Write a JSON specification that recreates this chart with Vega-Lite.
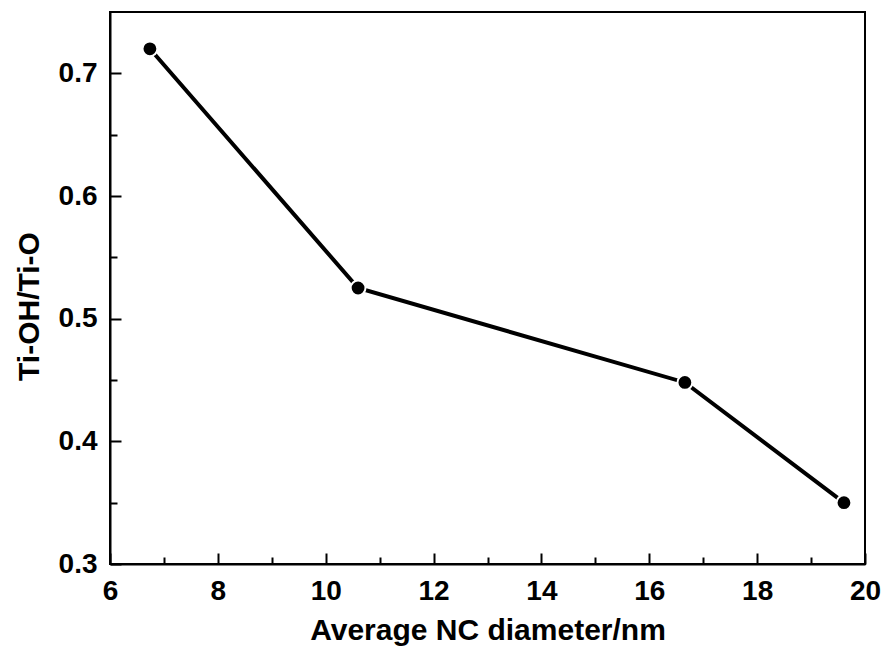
{
  "$schema": "https://vega.github.io/schema/vega-lite/v6.json",
  "width": 755,
  "height": 552,
  "autosize": {"type": "none"},
  "padding": {"left": 110, "top": 12, "right": 20, "bottom": 91},
  "background": "white",
  "config": {
    "view": {"stroke": "black", "strokeWidth": 2},
    "font": "Liberation Sans",
    "axis": {
      "grid": false,
      "domainColor": "black",
      "domainWidth": 2,
      "tickColor": "black",
      "tickWidth": 2,
      "labelColor": "black",
      "titleColor": "black",
      "labelFont": "Liberation Sans",
      "titleFont": "Liberation Sans",
      "labelFontWeight": "bold",
      "titleFontWeight": "bold",
      "labelFontSize": 28,
      "titleFontSize": 30
    }
  },
  "data": {
    "values": [
      {"d": 6.74, "r": 0.72},
      {"d": 10.6, "r": 0.525},
      {"d": 16.66, "r": 0.448},
      {"d": 19.61, "r": 0.35}
    ]
  },
  "layer": [
    {
      "mark": {"type": "line", "color": "black", "strokeWidth": 4},
      "encoding": {
        "x": {
          "field": "d", "type": "quantitative",
          "scale": {"domain": [6, 20], "nice": false, "zero": false},
          "axis": {
            "orient": "bottom",
            "values": [6, 8, 10, 12, 14, 16, 18, 20],
            "format": "d",
            "tickSize": -11,
            "labelPadding": 24,
            "labelFlush": false,
            "labelOverlap": false,
            "title": "Average NC diameter/nm",
            "titlePadding": 10
          }
        },
        "y": {
          "field": "r", "type": "quantitative",
          "scale": {"domain": [0.3, 0.75], "nice": false, "zero": false},
          "axis": {
            "orient": "left",
            "values": [0.3, 0.4, 0.5, 0.6, 0.7],
            "format": ".1f",
            "tickSize": -11,
            "labelPadding": 24,
            "labelFlush": false,
            "labelOverlap": false,
            "title": "Ti-OH/Ti-O",
            "titlePadding": 14,
            "titleY": 294
          }
        }
      }
    },
    {
      "mark": {"type": "point", "shape": "circle", "filled": true, "size": 220, "color": "black", "stroke": "white", "strokeWidth": 2, "opacity": 1},
      "encoding": {
        "x": {"field": "d", "type": "quantitative", "scale": {"domain": [6, 20], "nice": false, "zero": false}, "axis": null},
        "y": {"field": "r", "type": "quantitative", "scale": {"domain": [0.3, 0.75], "nice": false, "zero": false}, "axis": null}
      }
    },
    {
      "mark": {"type": "point", "opacity": 0},
      "encoding": {
        "x": {
          "field": "d", "type": "quantitative",
          "scale": {"domain": [6, 20], "nice": false, "zero": false},
          "axis": {"orient": "bottom", "values": [7, 9, 11, 13, 15, 17, 19], "tickSize": -7, "labels": false, "domain": false, "title": null}
        },
        "y": {
          "field": "r", "type": "quantitative",
          "scale": {"domain": [0.3, 0.75], "nice": false, "zero": false},
          "axis": {"orient": "left", "values": [0.35, 0.45, 0.55, 0.65], "tickSize": -7, "labels": false, "domain": false, "title": null}
        }
      }
    }
  ],
  "resolve": {"axis": {"x": "independent", "y": "independent"}}
}
